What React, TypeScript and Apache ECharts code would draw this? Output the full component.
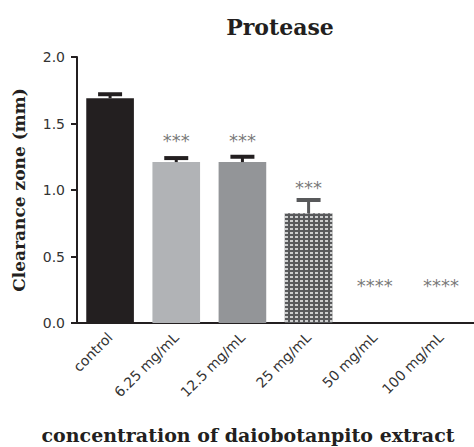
import React, { useEffect, useRef } from "react";
import * as echarts from "echarts";

const categories = ["control", "6.25 mg/mL", "12.5 mg/mL", "25 mg/mL", "50 mg/mL", "100 mg/mL"];
const means = [1.69, 1.21, 1.21, 0.825, 0, 0];
const errors = [0.03, 0.03, 0.04, 0.1, 0, 0];
const sigLabels = ["", "***", "***", "***", "****", "****"];
const sigPositions = [0, 1.37, 1.37, 1.02, 0.28, 0.28];
const yTicks = [0, 0.5, 1.0, 1.5, 2.0];

const barColors = ["#231f20", "#b1b3b6", "#939598", "#58595b", "#58595b", "#58595b"];
const capColors = ["#231f20", "#231f20", "#231f20", "#58595b", "#58595b", "#58595b"];

export default function App() {
  const ref = useRef<HTMLDivElement>(null);
  useEffect(() => {
    document.body.style.margin = "0";
    const chart = echarts.init(ref.current!, null, { renderer: "svg" });
    const option: any = {
      animation: false,
      backgroundColor: "#ffffff",
      title: {
        text: "Protease",
        left: 275,
        top: 11,
        textAlign: "center",
        textStyle: { fontFamily: "DejaVu Serif", fontWeight: "bold", fontSize: 22, color: "#231f20" },
      },
      graphic: [
        {
          type: "text",
          x: 248,
          y: 435,
          style: {
            text: "concentration of daiobotanpito extract",
            fontFamily: "DejaVu Serif",
            fontWeight: "bold",
            fontSize: 19,
            fill: "#231f20",
            align: "center",
            verticalAlign: "middle",
          },
        },
      ],
      grid: { left: 77, right: 0, top: 57, bottom: 124, containLabel: false },
      xAxis: {
        type: "category",
        data: categories,
        axisLine: { lineStyle: { color: "#231f20", width: 2 } },
        axisTick: { alignWithLabel: true, length: 6, lineStyle: { color: "#231f20", width: 2 } },
        axisLabel: {
          rotate: 45,
          interval: 0,
          margin: 12,
          fontFamily: "DejaVu Sans",
          fontSize: 14,
          color: "#333333",
        },
      },
      yAxis: {
        type: "value",
        min: 0,
        max: 2,
        interval: 0.5,
        name: "Clearance zone (mm)",
        nameLocation: "middle",
        nameGap: 50,
        nameTextStyle: { fontFamily: "DejaVu Serif", fontWeight: "bold", fontSize: 17, color: "#231f20" },
        axisLine: { show: true, lineStyle: { color: "#231f20", width: 2 } },
        axisTick: { show: true, length: 6, lineStyle: { color: "#231f20", width: 2 } },
        splitLine: { show: false },
        axisLabel: {
          margin: 12,
          fontFamily: "DejaVu Sans",
          fontSize: 14,
          color: "#333333",
          formatter: (v: number) => (yTicks.includes(v) ? v.toFixed(1) : ""),
        },
      },
      series: [
        {
          type: "bar",
          barWidth: "72%",
          data: means.map((v, i) => ({
            value: v,
            itemStyle: {
              color: barColors[i],
              decal:
                i === 3
                  ? {
                      symbol: "rect",
                      symbolSize: 1,
                      color: "rgba(255,255,255,0.7)",
                      dashArrayX: [[3, 2]],
                      dashArrayY: [2, 2],
                      rotation: 0,
                    }
                  : { symbol: "none" },
            },
          })),
          z: 2,
        },
        {
          type: "custom",
          z: 3,
          data: means.map((v, i) => [i, v, errors[i]]),
          renderItem: (params: any, api: any) => {
            const i = api.value(0);
            const v = api.value(1);
            const e = api.value(2);
            if (!e) return null;
            const base = api.coord([i, v]);
            const top = api.coord([i, v + e]);
            const color = capColors[i];
            return {
              type: "group",
              children: [
                { type: "line", shape: { x1: base[0], y1: base[1], x2: top[0], y2: top[1] }, style: { stroke: color, lineWidth: 3 } },
                { type: "line", shape: { x1: top[0] - 12, y1: top[1], x2: top[0] + 12, y2: top[1] }, style: { stroke: color, lineWidth: 4 } },
              ],
            };
          },
        },
        {
          type: "scatter",
          symbolSize: 0,
          z: 4,
          data: sigLabels.map((s, i) => ({
            value: [i, sigPositions[i]],
            label: {
              show: s !== "",
              formatter: s,
              position: "inside",
              fontFamily: "DejaVu Sans",
              fontSize: 18,
              color: "#555555",
            },
          })),
        },
      ],
    };
    chart.setOption(option);
    return () => chart.dispose();
  }, []);
  return <div ref={ref} style={{ width: 474, height: 447 }} />;
}
